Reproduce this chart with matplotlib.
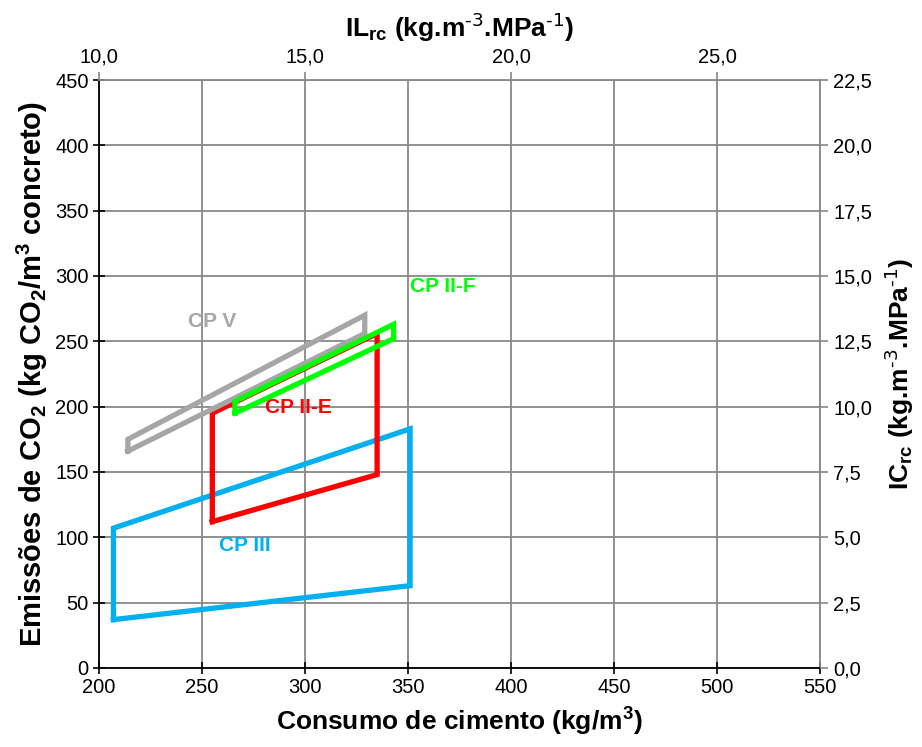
import matplotlib
matplotlib.use("Agg")
import matplotlib.pyplot as plt
from matplotlib.ticker import FuncFormatter

plt.rcParams["font.family"] = ["Liberation Sans", "DejaVu Sans"]
plt.rcParams["mathtext.default"] = "regular"

# Polygon vertices (cement consumption kg/m3, CO2 emissions kg/m3)
cp3_x = [207, 207, 351, 351]
cp3_y = [37, 107, 183, 63]

cp2e_x = [255, 255, 335, 335]
cp2e_y = [112, 195, 256, 148]

cp5_x = [214, 214, 329, 329]
cp5_y = [166, 175, 270, 256]

cp2f_x = [266, 266, 343, 343]
cp2f_y = [195, 204, 263, 252]

series = [
    ("CP III", cp3_x, cp3_y, "#00b0f0", (271, 94)),
    ("CP II-E", cp2e_x, cp2e_y, "#ff0000", (297, 199)),
    ("CP V", cp5_x, cp5_y, "#a6a6a6", (255, 265)),
    ("CP II-F", cp2f_x, cp2f_y, "#00ff00", (367, 292)),
]

fig = plt.figure(figsize=(9.22, 7.47), dpi=100)
ax = fig.add_axes([0.1074, 0.1058, 0.7820, 0.7871])

for name, xs, ys, color, pos in series:
    ax.plot(xs + xs[:1], ys + ys[:1], color=color, lw=3.8,
            solid_joinstyle="miter", zorder=3)
    ax.text(pos[0], pos[1], name, color=color, fontsize=15,
            fontweight="bold", ha="center", va="center", zorder=4)

ax.set_xlim(200, 550)
ax.set_ylim(0, 450)
ax.set_xticks(range(200, 551, 50))
ax.set_yticks(range(0, 451, 50))
ax.grid(True, color="#888888", lw=1.3)
ax.set_axisbelow(True)
ax.tick_params(labelsize=14.5, direction="inout", length=8, width=1.2)
for s in ["left", "bottom"]:
    ax.spines[s].set_color("black")
    ax.spines[s].set_linewidth(1.3)
for s in ["top", "right"]:
    ax.spines[s].set_color("#888888")
    ax.spines[s].set_linewidth(1.3)

ax.set_xlabel("Consumo de cimento (kg/m$^3$)", fontsize=19, fontweight="bold",
              labelpad=6)
ax.set_ylabel("Emissões de CO$_2$ (kg CO$_2$/m$^3$ concreto)", fontsize=21,
              fontweight="bold", labelpad=4)

comma = FuncFormatter(lambda v, p: f"{v:.1f}".replace(".", ","))

# top axis: IL_rc
top = ax.twiny()
top.set_xlim(200 / 20, 550 / 20)
top.set_xticks([10, 15, 20, 25])
top.xaxis.set_major_formatter(comma)
top.tick_params(labelsize=14.5, direction="out", length=6, width=1.2,
                color="#888888")
top.set_xlabel(r"IL$_{rc}$ (kg.m$^{\text{-3}}$.MPa$^{\text{-1}}$)", fontsize=19,
               fontweight="bold", labelpad=8)

# right axis: IC_rc
right = ax.twinx()
right.set_ylim(0, 450 / 20)
right.set_yticks([i * 2.5 for i in range(10)])
right.yaxis.set_major_formatter(comma)
right.tick_params(labelsize=14.5, direction="out", length=6, width=1.2,
                  color="#888888")
right.set_ylabel(r"IC$_{rc}$ (kg.m$^{\text{-3}}$.MPa$^{\text{-1}}$)", fontsize=19,
                 fontweight="bold", labelpad=8)
for a in (top, right):
    for s in a.spines.values():
        s.set_visible(False)

fig.savefig("out.png", dpi=100)
